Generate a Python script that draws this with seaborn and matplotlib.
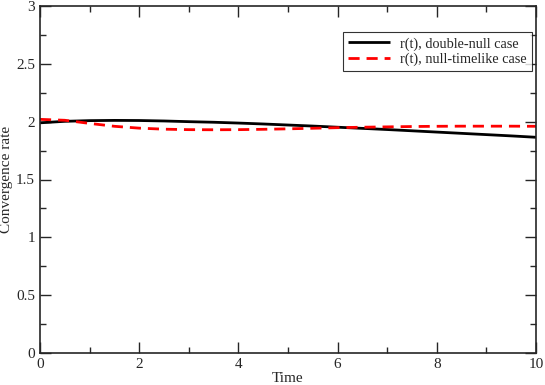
import pandas as pd
import matplotlib
matplotlib.use("Agg")
import matplotlib.pyplot as plt
import seaborn as sns
from matplotlib.ticker import MultipleLocator

# values
time = [0, 0.5, 1, 1.5, 2, 2.5, 3, 3.5, 4, 4.5, 5, 5.5, 6, 6.5, 7, 7.5, 8, 8.5, 9, 9.5, 10]
r_double_null = [1.99, 2.003, 2.009, 2.011, 2.01, 2.006, 2.0, 1.995, 1.988, 1.98, 1.971, 1.962, 1.952,
                 1.942, 1.932, 1.921, 1.91, 1.899, 1.888, 1.877, 1.865]
r_null_timelike = [2.02, 2.012, 1.985, 1.96, 1.944, 1.935, 1.931, 1.93, 1.931, 1.934, 1.938, 1.943, 1.948,
                   1.952, 1.955, 1.958, 1.96, 1.961, 1.961, 1.961, 1.96]
labels = ["r(t), double-null case", "r(t), null-timelike case"]

df = pd.DataFrame({
    "time": time * 2,
    "rate": r_double_null + r_null_timelike,
    "case": [labels[0]] * len(time) + [labels[1]] * len(time),
})

sns.set_style("ticks")
plt.rcParams["font.family"] = ["Liberation Serif", "DejaVu Serif"]

fig = plt.figure(figsize=(5.45, 3.85), dpi=100)
ax = fig.add_axes([40 / 545, 1 - 353 / 385, 496 / 545, 347 / 385])

sns.lineplot(data=df, x="time", y="rate", hue="case", style="case",
             palette=["black", "red"], dashes=[(1, 0), (4, 2.5)],
             linewidth=2, ax=ax)

ax.set_xlim(0, 10)
ax.set_ylim(0, 3)
ax.xaxis.set_major_locator(MultipleLocator(2))
ax.xaxis.set_minor_locator(MultipleLocator(1))
ax.yaxis.set_major_locator(MultipleLocator(0.5))
ax.yaxis.set_minor_locator(MultipleLocator(0.25))
ax.tick_params(which="both", direction="in", top=True, right=True, labelsize=11, width=1)
ax.tick_params(which="major", length=8)
ax.tick_params(which="minor", length=4)
ax.set_yticks([0, 0.5, 1, 1.5, 2, 2.5, 3], ["0", "0.5", "1", "1.5", "2", "2.5", "3"])
ax.set_xticks([0, 2, 4, 6, 8, 10], ["0", "2", "4", "6", "8", "10"])
for s in ax.spines.values():
    s.set_linewidth(1.2)

ax.set_xlabel("Time", fontsize=11, labelpad=1)
ax.set_ylabel("Convergence rate", fontsize=11, labelpad=2)

leg = ax.legend(loc="upper right", bbox_to_anchor=(0.992, 0.925), borderaxespad=0,
                fontsize=10.3, frameon=True, fancybox=False, edgecolor="black",
                handlelength=2.9, handletextpad=0.75, borderpad=0.35, labelspacing=0.15)
leg.get_frame().set_linewidth(0.8)

plt.savefig("out.png", dpi=100)
